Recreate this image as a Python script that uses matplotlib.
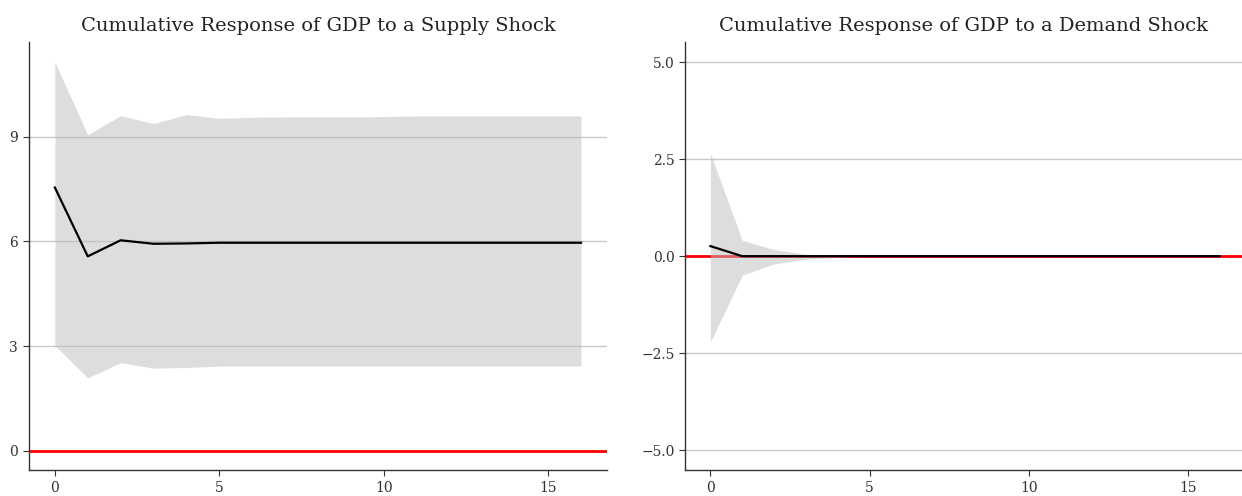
import numpy as np
import matplotlib.pyplot as plt

horizon = list(range(17))

# supply shock: cumulative GDP response and band
supply_irf = [7.54, 5.57, 6.03, 5.93, 5.94, 5.96, 5.96, 5.96, 5.96, 5.96,
              5.96, 5.96, 5.96, 5.96, 5.96, 5.96, 5.96]
supply_hi = [11.13, 9.05, 9.60, 9.37, 9.63, 9.52, 9.55, 9.56, 9.56, 9.56,
             9.57, 9.59, 9.59, 9.59, 9.59, 9.59, 9.59]
supply_lo = [3.02, 2.09, 2.53, 2.37, 2.39, 2.43, 2.43, 2.43, 2.43, 2.43,
             2.43, 2.43, 2.43, 2.43, 2.43, 2.43, 2.43]

# demand shock
demand_irf = [0.26, 0.0, 0.0, 0.0, 0.0, 0.0, 0.0, 0.0, 0.0, 0.0,
              0.0, 0.0, 0.0, 0.0, 0.0, 0.0, 0.0]
demand_hi = [2.65, 0.41, 0.17, 0.05, 0.03, 0.0, 0.0, 0.0, 0.0, 0.0,
             0.0, 0.0, 0.0, 0.0, 0.0, 0.0, 0.0]
demand_lo = [-2.21, -0.49, -0.20, -0.08, -0.03, 0.0, 0.0, 0.0, 0.0, 0.0,
             0.0, 0.0, 0.0, 0.0, 0.0, 0.0, 0.0]

plt.rcParams['font.family'] = ['DejaVu Serif']

fig = plt.figure(figsize=(12.42, 4.96), dpi=100)
ax1 = fig.add_axes([0.023, 0.052, 0.466, 0.863])
ax2 = fig.add_axes([0.5515, 0.052, 0.4485, 0.863])


def style(ax, title, yticks, ylabels, ylim, xlim):
    ax.set_title(title, fontsize=14, color='#222222', pad=8)
    ax.set_xlim(*xlim)
    ax.set_ylim(*ylim)
    ax.set_xticks([0, 5, 10, 15])
    ax.set_yticks(yticks)
    ax.set_yticklabels(ylabels)
    ax.grid(axis='y', color='#c8c8c8', linewidth=1)
    ax.set_axisbelow(True)
    for s in ['top', 'right']:
        ax.spines[s].set_visible(False)
    for s in ['left', 'bottom']:
        ax.spines[s].set_color('#333333')
        ax.spines[s].set_linewidth(1)
    ax.tick_params(labelsize=10, colors='#333333', length=4, width=0.8)


# left panel
ax1.axhline(0, color='red', linewidth=2, zorder=1)
ax1.fill_between(horizon, supply_lo, supply_hi, color='#bdbdbd', alpha=0.5,
                 linewidth=0, zorder=2)
ax1.plot(horizon, supply_irf, color='black', linewidth=1.6, zorder=3)
style(ax1, 'Cumulative Response of GDP to a Supply Shock',
      [0, 3, 6, 9], ['0', '3', '6', '9'], (-0.55, 11.7), (-0.8, 16.8))

# right panel
ax2.axhline(0, color='red', linewidth=2, zorder=1)
ax2.fill_between(horizon, demand_lo, demand_hi, color='#bdbdbd', alpha=0.5,
                 linewidth=0, zorder=2)
ax2.plot(horizon, demand_irf, color='black', linewidth=1.6, zorder=3)
style(ax2, 'Cumulative Response of GDP to a Demand Shock',
      [-5, -2.5, 0, 2.5, 5], ['\u22125.0', '\u22122.5', '0.0', '2.5', '5.0'],
      (-5.52, 5.52), (-0.8, 16.7))

fig.savefig('out.png', dpi=100)
